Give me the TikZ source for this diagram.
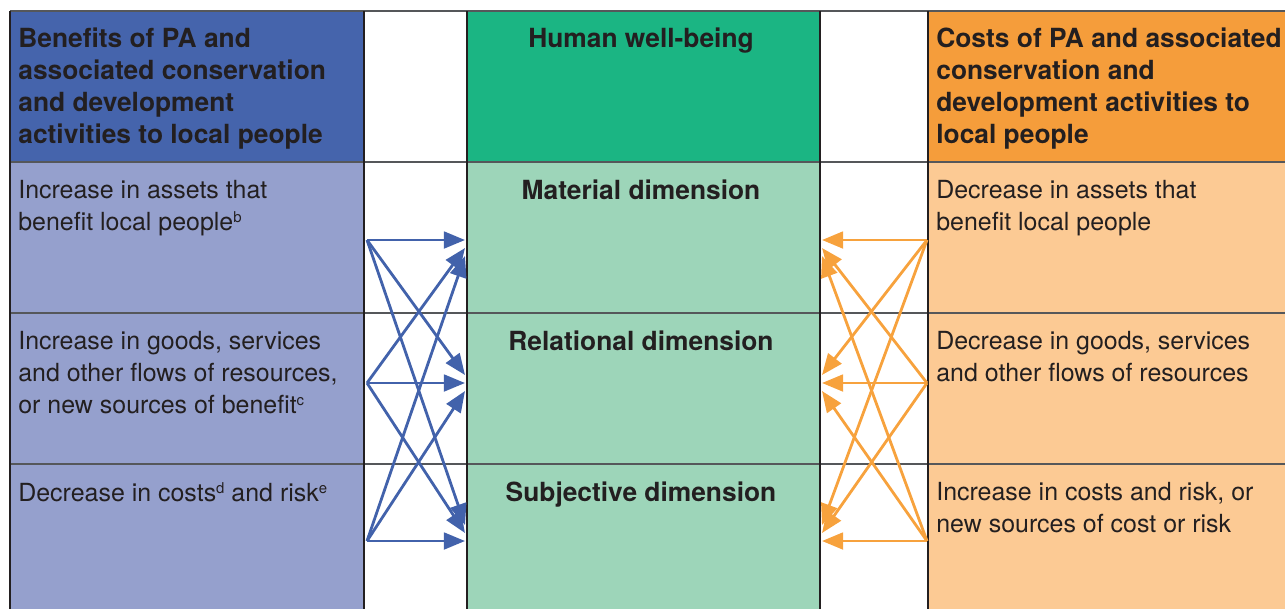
\documentclass[tikz,border=0pt]{standalone}
\usepackage{fontspec}
\setmainfont{TeX Gyre Heros}
\usetikzlibrary{arrows.meta}
\definecolor{ink}{HTML}{231F20}
\definecolor{gridgray}{HTML}{55575A}
\definecolor{benhead}{HTML}{4564AC}
\definecolor{benbody}{HTML}{95A0CD}
\definecolor{hwbhead}{HTML}{1BB583}
\definecolor{hwbbody}{HTML}{9DD5B9}
\definecolor{costhead}{HTML}{F59D3B}
\definecolor{costbody}{HTML}{FCCA94}
\definecolor{benarrow}{HTML}{4262AB}
\definecolor{costarrow}{HTML}{F7A23D}
\newcommand{\fnmark}[1]{\raisebox{0.33em}{\fontsize{8.5}{8.5}\selectfont #1}}
\begin{document}
\begin{tikzpicture}[x=0.02cm, y=-0.02cm,
    headtxt/.style={anchor=north west, align=left, inner sep=0pt, text=ink,
      font=\fontsize{15}{18.2}\selectfont\bfseries},
    celltxt/.style={anchor=north west, align=left, inner sep=0pt, text=ink,
      font=\fontsize{14.2}{18.2}\selectfont},
    dimtxt/.style={anchor=north, inner sep=0pt, text=ink,
      font=\fontsize{15}{18.2}\selectfont\bfseries},
    gridline/.style={draw=gridgray, line width=0.9pt},
    colline/.style={draw=ink, line width=1.2pt},
    benarr/.style={draw=benarrow, line width=1.6pt, -{Triangle[length=12pt,width=9.5pt]}},
    costarr/.style={draw=costarrow, line width=1.6pt, -{Triangle[length=12pt,width=9.5pt]}}]
  \useasboundingbox (0,0) rectangle (1285,609);
  \fill[benhead] (10,11) rectangle (364,162);
  \fill[benbody] (10,162) rectangle (364,609);
  \fill[hwbhead] (467,11) rectangle (820,162);
  \fill[hwbbody] (467,162) rectangle (820,609);
  \fill[costhead] (928,11) rectangle (1285,162);
  \fill[costbody] (928,162) rectangle (1285,609);
  \foreach \y in {11,162,313,464} \draw[gridline] (10,\y) -- (1285,\y);
  \foreach \x in {10,364,467,820,928} \draw[colline] (\x,11) -- (\x,609);

  \foreach \i/\y in {1/240,2/383,3/541} {
    \coordinate (bs\i) at (367,\y); \coordinate (bt\i) at (465,\y);
    \coordinate (cs\i) at (927,\y); \coordinate (ct\i) at (822,\y);
  }
  \foreach \i in {1,2,3} \foreach \j in {1,2,3} {
    \draw[benarr] (bs\j) -- ([yshift={(\i-\j)*0.16cm}]bt\i);
    \draw[costarr] (cs\j) -- ([yshift={(\i-\j)*0.16cm}]ct\i);
  }

  \node[headtxt] (benhd) at (18,28) {Benefits of PA and\\associated conservation\\and development\\activities to local people};
  \node[dimtxt] (hwbhd) at (641,28) {Human well-being};
  \node[headtxt] (costhd) at (936,28) {Costs of PA and associated\\conservation and\\development activities to\\local people};
  \node[celltxt] (ben1) at (18,180) {Increase in assets that\\benefit local people\fnmark{b}};
  \node[celltxt] (ben2) at (18,331) {Increase in goods, services\\and other flows of resources,\\or new sources of benefit\fnmark{c}};
  \node[celltxt] (ben3) at (18,482) {Decrease in costs\fnmark{d} and risk\fnmark{e}};
  \node[dimtxt] (dim1) at (641,180) {Material dimension};
  \node[dimtxt] (dim2) at (641,331) {Relational dimension};
  \node[dimtxt] (dim3) at (641,482) {Subjective dimension};
  \node[celltxt] (cost1) at (936,180) {Decrease in assets that\\benefit local people};
  \node[celltxt] (cost2) at (936,331) {Decrease in goods, services\\and other flows of resources};
  \node[celltxt] (cost3) at (936,482) {Increase in costs and risk, or\\new sources of cost or risk};
\end{tikzpicture}
\end{document}
